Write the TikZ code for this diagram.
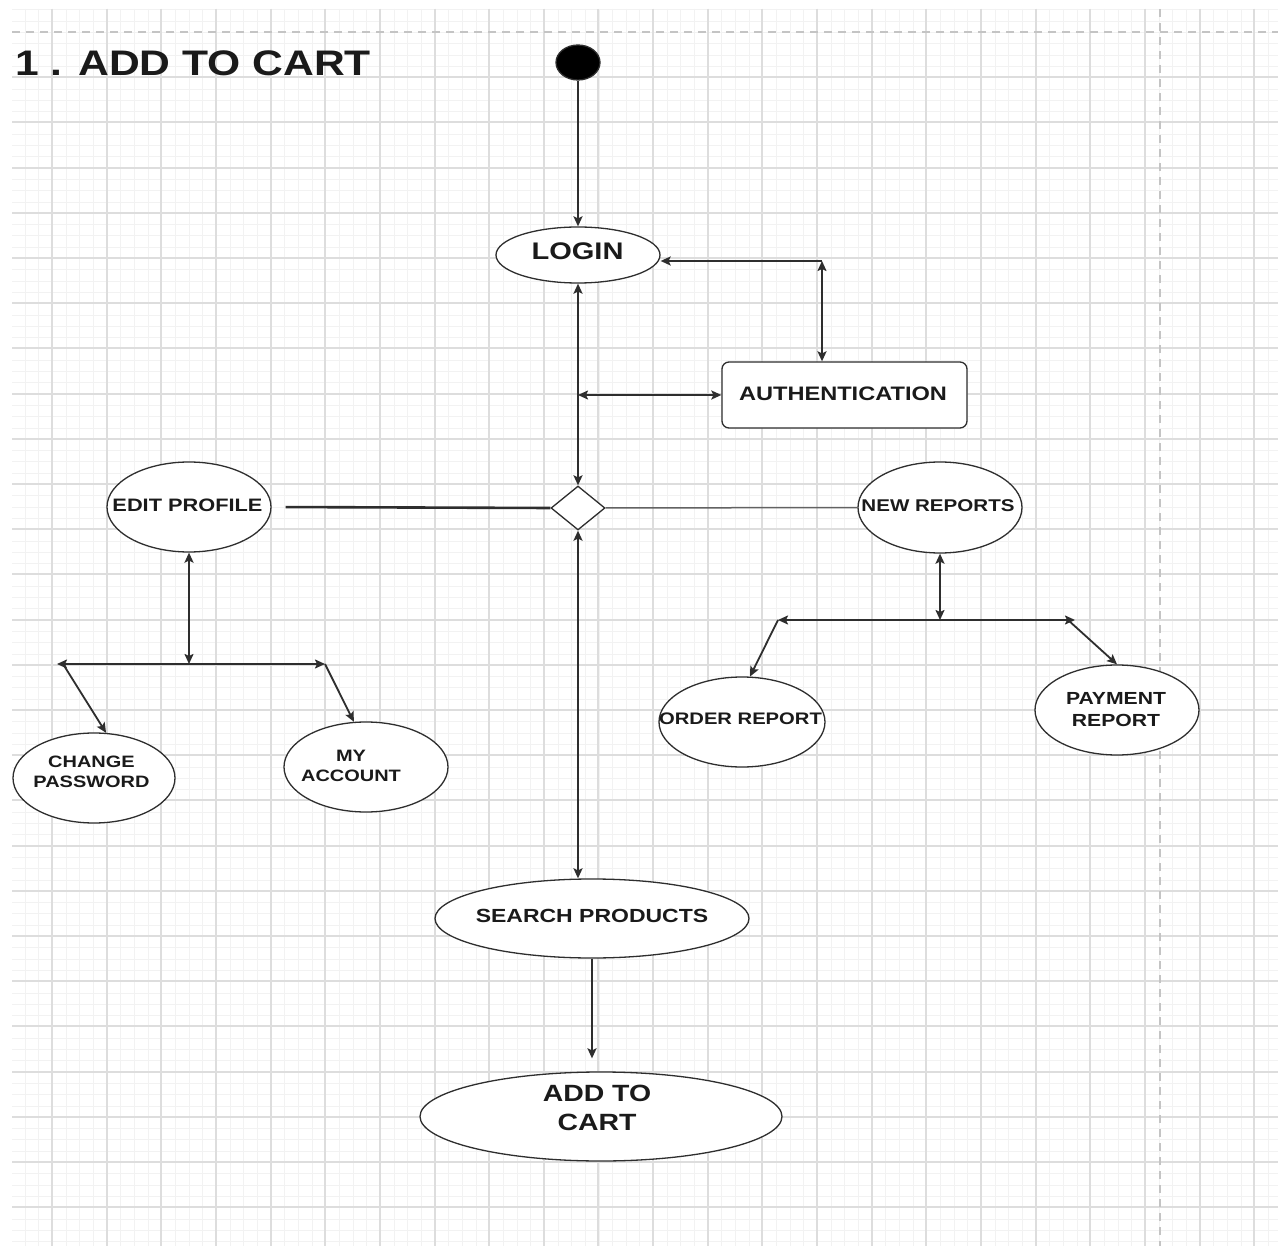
\documentclass[tikz,border=0pt]{standalone}
\usepackage{fontspec}
\setmainfont{Liberation Sans}
\usetikzlibrary{arrows.meta,shapes.geometric}

\definecolor{ink}{HTML}{1A1A1A}
\definecolor{wire}{HTML}{2E2E2E}
\definecolor{gridmaj}{HTML}{DDDDDD}
\definecolor{gridmin}{HTML}{F2F2F2}
\definecolor{pagebrk}{HTML}{C4C4C4}

% bold sans label, slightly widened; #1 size, #2 line spacing, #3 text
\newcommand{\wlabel}[3]{\scalebox{1.21}[1]{\fontsize{#1}{#2}\selectfont\bfseries\begin{tabular}{@{}c@{}}#3\end{tabular}}}

\begin{document}
\begin{tikzpicture}[x=1pt,y=-1pt,
  >={Stealth[length=10pt,width=9pt,inset=2pt]},
  usecase/.style={ellipse, draw=wire, line width=1.3pt, fill=white, inner sep=0pt},
  lbl/.style={inner sep=0pt, text=ink},
  conn/.style={draw=wire, line width=1.8pt}]

% canvas
\fill[white] (0,0) rectangle (1278,1246);
\useasboundingbox (0,0) rectangle (1278,1246);

% drawing grid with page-break marks (lines snapped to whole units)
\begin{scope}
  \clip (12,9) rectangle (1278,1246);
  \foreach \i [evaluate=\i as \gx using {round(52+13.6625*\i)+0.5}] in {-3,...,90}
    \draw[gridmin, line width=1pt] (\gx,9) -- (\gx,1246);
  \foreach \j [evaluate=\j as \gy using {round(32+11.3*\j)+0.5}] in {-3,...,108}
    \draw[gridmin, line width=1pt] (12,\gy) -- (1278,\gy);
  \foreach \i [evaluate=\i as \gx using {round(52+54.65*\i)}] in {0,...,22}
    \draw[gridmaj, line width=2pt] (\gx,9) -- (\gx,1246);
  \foreach \j [evaluate=\j as \gy using {round(32+45.2*\j)}] in {1,...,27}
    \draw[gridmaj, line width=2pt] (12,\gy) -- (1278,\gy);
  \draw[pagebrk, line width=2pt, dash pattern=on 8pt off 6pt] (12,32) -- (1278,32);
  \draw[pagebrk, line width=2pt, dash pattern=on 8pt off 6pt] (1160,9) -- (1160,1246);
\end{scope}

% title
\node[lbl, anchor=base west] (title) at (15,76)
  {\scalebox{1.2}[1]{\fontsize{35.5}{40}\selectfont\bfseries 1 . ADD TO CART}};

% nodes
\node[usecase, fill=black, minimum width=44pt, minimum height=35pt] (start) at (578,62.5) {};

\node[usecase, minimum width=164pt, minimum height=56pt] (login) at (578,255) {};
\node[lbl] (login-t) at (577.5,253.5) {\wlabel{24}{28}{LOGIN}};

\node[draw=wire, line width=1.3pt, rounded corners=7pt, fill=white,
      minimum width=245pt, minimum height=66pt, inner sep=0pt] (auth) at (844.5,395) {};
\node[lbl] (auth-t) at (843,395.5) {\wlabel{19.5}{23}{AUTHENTICATION}};

\node[diamond, draw=wire, line width=1.3pt, fill=white,
      minimum width=54pt, minimum height=44pt, inner sep=0pt] (choice) at (578,508) {};

\node[usecase, minimum width=164pt, minimum height=90pt] (editp) at (189,507) {};
\node[lbl] (editp-t) at (187.5,507.5) {\wlabel{18}{21}{EDIT PROFILE}};

\node[usecase, minimum width=164pt, minimum height=91pt] (newrep) at (940,507.5) {};
\node[lbl] (newrep-t) at (938,507.5) {\wlabel{17}{20}{NEW REPORTS}};

\node[usecase, minimum width=162pt, minimum height=90pt] (chpw) at (94,778) {};
\node[lbl] (chpw-t) at (91.5,773) {\wlabel{16.5}{20}{CHANGE\\PASSWORD}};

\node[usecase, minimum width=164pt, minimum height=90pt] (myacc) at (366,767) {};
\node[lbl] (myacc-t) at (351,767) {\wlabel{16.5}{20}{MY\\ACCOUNT}};

\node[usecase, minimum width=166pt, minimum height=90pt] (ordrep) at (742,722) {};
\node[lbl] (ordrep-t) at (740.5,720.5) {\wlabel{16.7}{20}{ORDER REPORT}};

\node[usecase, minimum width=164pt, minimum height=90pt] (payrep) at (1117,710) {};
\node[lbl] (payrep-t) at (1116,711) {\wlabel{17.5}{21.5}{PAYMENT\\REPORT}};

\node[usecase, minimum width=314pt, minimum height=79pt] (search) at (592,918.5) {};
\node[lbl] (search-t) at (592,918) {\wlabel{19}{22}{SEARCH PRODUCTS}};

\node[usecase, minimum width=362pt, minimum height=89pt] (cart) at (601,1116.5) {};
\node[lbl] (cart-t) at (597,1110.5) {\wlabel{23.5}{28.5}{ADD TO\\CART}};

% junction points
\coordinate (authbend) at (822,261);
\coordinate (authtap) at (578,395);
\coordinate (epmid) at (189,664);
\coordinate (epl) at (57,664);
\coordinate (eplfoot) at (63,664);
\coordinate (epr) at (325,664);
\coordinate (nrmid) at (940,620);
\coordinate (nrl) at (778,620);
\coordinate (nrr) at (1075,620);
\coordinate (nrrfoot) at (1068,620);

% connectors
\draw[conn,->] (start.south) -- (login.north);
\draw[conn,<->] (auth.north -| authbend) -- (authbend);
\draw[conn,->] (authbend) -- (authbend -| login.east);
\draw[conn,<->] (login.south) -- (choice.north);
\draw[conn,<->] (authtap) -- (auth.west);

\draw[conn, line width=2.6pt, shorten >=14pt] (choice.west) -- (editp.east);
\draw[conn, draw=wire!75, line width=1.5pt] (choice.east) -- (newrep.west);
\draw[conn,<->] (choice.south) -- (choice.south |- search.north);
\draw[conn,->, shorten >=13pt] (search.south) -- (search.south |- cart.north);

\draw[conn,<->] (editp.south) -- (epmid);
\draw[conn,<->] (epl) -- (epr);
\draw[conn,->] (eplfoot) -- (chpw.75);
\draw[conn,->] (epr) -- (myacc.105);

\draw[conn,<->] (newrep.south) -- (nrmid);
\draw[conn,<->] (nrl) -- (nrr);
\draw[conn,->] (nrl) -- (ordrep.80);
\draw[conn,->] (nrrfoot) -- (payrep.north);
\end{tikzpicture}
\end{document}
